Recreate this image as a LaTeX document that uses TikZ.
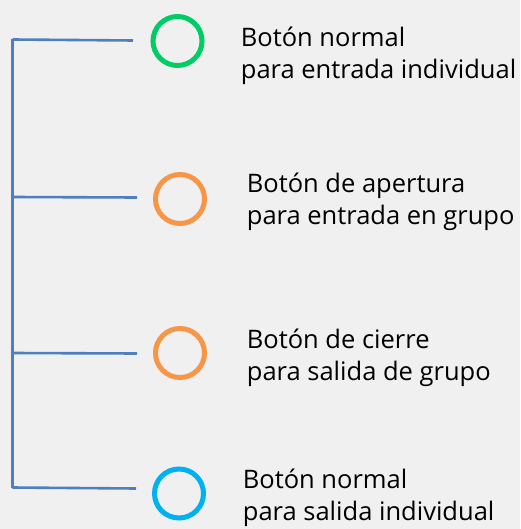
\documentclass[tikz,border=0pt]{standalone}
\usepackage{fontspec}
\setmainfont{Open Sans}
\begin{document}
\begin{tikzpicture}[x=1pt,y=-1pt,
  conn/.style={draw=linkblue,line width=2.6pt},
  btn/.style={circle,line width=5pt,minimum size=49pt,inner sep=0pt},
  lbl/.style={anchor=base west,align=left,inner sep=0pt,font=\fontsize{25.5}{31.7}\selectfont,text=black}]
\definecolor{bg}{HTML}{F0F0F0}
\definecolor{linkblue}{HTML}{4F7FBE}
\definecolor{btngreen}{HTML}{00CC66}
\definecolor{btnorange}{HTML}{F79646}
\definecolor{btncyan}{HTML}{00B0F0}
\fill[bg] (0,0) rectangle (520,529);
\useasboundingbox (0,0) rectangle (520,529);
% spine coordinates
\coordinate (s1) at (12.5,39.5);
\coordinate (s2) at (12.5,197);
\coordinate (s3) at (12.5,353);
\coordinate (s4) at (12.5,487.5);
\coordinate (e1) at (133,40.5);
\coordinate (e2) at (137,197.5);
\coordinate (e3) at (137,353.5);
\coordinate (e4) at (136,488.5);
\draw[conn] (s1) -- (s4);
\draw[conn] (s1) -- (e1);
\draw[conn] (s2) -- (e2);
\draw[conn] (s3) -- (e3);
\draw[conn] (s4) -- (e4);
% buttons
\node[btn,draw=btngreen] (b1) at (177.5,41) {};
\node[btn,draw=btnorange] (b2) at (180,199) {};
\node[btn,draw=btnorange] (b3) at (180,353) {};
\node[btn,draw=btncyan] (b4) at (179,493.5) {};
% labels (anchored at baseline of second line)
\node[lbl] (t1) at (240.7,78.4) {Botón normal\\para entrada individual};
\node[lbl] (t2) at (246.7,224.0) {Botón de apertura\\para entrada en grupo};
\node[lbl] (t3) at (246.7,380.0) {Botón de cierre\\para salida de grupo};
\node[lbl] (t4) at (242.7,520.0) {Botón normal\\para salida individual};
\end{tikzpicture}
\end{document}
